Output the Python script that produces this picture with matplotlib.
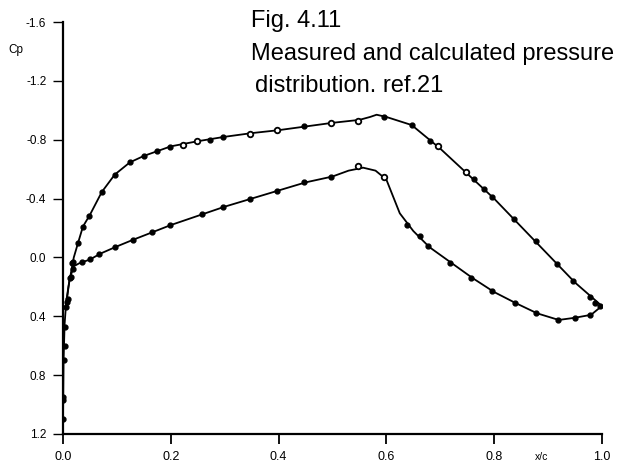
import numpy as np
import matplotlib
matplotlib.use("Agg")
import matplotlib.pyplot as plt

plt.rcParams['font.family'] = ['Liberation Sans', 'DejaVu Sans']

# calculated pressure distribution (solid lines)
upper_calc_x = [0.0, 0.001, 0.003, 0.006, 0.010, 0.015, 0.020, 0.028, 0.037, 0.050, 0.072, 0.096,
                0.124, 0.150, 0.200, 0.250, 0.300, 0.350, 0.400, 0.450, 0.500, 0.550, 0.570,
                0.582, 0.600, 0.647, 0.700, 0.750, 0.800, 0.850, 0.900, 0.950, 1.000]
upper_calc_cp = [1.10, 0.70, 0.45, 0.30, 0.20, 0.10, 0.00, -0.10, -0.21, -0.29, -0.445, -0.563,
                 -0.646, -0.69, -0.755, -0.79, -0.82, -0.845, -0.865, -0.89, -0.915, -0.935, -0.955,
                 -0.97, -0.955, -0.90, -0.74, -0.57, -0.40, -0.21, -0.02, 0.17, 0.33]

lower_calc_x = [0.005, 0.012, 0.020, 0.030, 0.050, 0.070, 0.100, 0.130, 0.165, 0.200, 0.260,
                0.300, 0.350, 0.400, 0.450, 0.500, 0.530, 0.557, 0.580, 0.600, 0.625, 0.650,
                0.680, 0.720, 0.760, 0.800, 0.840, 0.880, 0.920, 0.950, 0.980, 1.000]
lower_calc_cp = [0.35, 0.15, 0.06, 0.04, 0.014, -0.027, -0.075, -0.12, -0.17, -0.22, -0.295,
                 -0.345, -0.40, -0.455, -0.51, -0.55, -0.59, -0.61, -0.59, -0.53, -0.30, -0.18,
                 -0.07, 0.035, 0.14, 0.235, 0.31, 0.38, 0.425, 0.41, 0.39, 0.33]

# measured values
upper_meas_x = [0.010, 0.015, 0.018, 0.027, 0.037, 0.049, 0.072, 0.096, 0.124, 0.150, 0.174,
                0.199, 0.273, 0.297, 0.448, 0.596, 0.647, 0.681, 0.763, 0.781, 0.797, 0.837,
                0.878, 0.916, 0.947, 0.978, 0.987, 0.996]
upper_meas_cp = [0.28, 0.13, 0.03, -0.10, -0.21, -0.285, -0.445, -0.563, -0.646, -0.69, -0.725,
                 -0.752, -0.80, -0.818, -0.89, -0.954, -0.90, -0.79, -0.53, -0.466, -0.41, -0.26,
                 -0.11, 0.043, 0.16, 0.27, 0.31, 0.33]
upper_open_x = [0.223, 0.248, 0.347, 0.398, 0.497, 0.548, 0.695, 0.747]
upper_open_cp = [-0.766, -0.789, -0.84, -0.863, -0.917, -0.929, -0.76, -0.58]

lower_meas_x = [0.0, 0.0, 0.0, 0.002, 0.004, 0.004, 0.005, 0.007, 0.013, 0.016, 0.019, 0.035,
                0.050, 0.067, 0.096, 0.129, 0.165, 0.199, 0.258, 0.297, 0.347, 0.398, 0.448,
                0.497, 0.638, 0.662, 0.678, 0.718, 0.758, 0.797, 0.839, 0.878, 0.918, 0.950,
                0.978]
lower_meas_cp = [1.10, 0.97, 0.95, 0.70, 0.60, 0.47, 0.34, 0.30, 0.14, 0.036, 0.08, 0.034,
                 0.014, -0.02, -0.07, -0.12, -0.17, -0.22, -0.296, -0.344, -0.40, -0.454, -0.51,
                 -0.547, -0.22, -0.145, -0.077, 0.036, 0.14, 0.23, 0.31, 0.38, 0.425, 0.41,
                 0.393]
lower_open_x = [0.548, 0.596]
lower_open_cp = [-0.62, -0.55]

fig = plt.figure(figsize=(6.43, 4.66), dpi=100)
ax = fig.add_axes([0.098, 0.0687, 0.838, 0.884])

ax.plot(upper_calc_x, upper_calc_cp, color='black', lw=1.3)
ax.plot(lower_calc_x, lower_calc_cp, color='black', lw=1.3)

ax.plot(upper_meas_x, upper_meas_cp, 'o', color='black', ms=3.5)
ax.plot(lower_meas_x, lower_meas_cp, 'o', color='black', ms=3.5)
ax.plot(upper_open_x, upper_open_cp, 'o', mfc='white', mec='black', mew=1.3, ms=4)
ax.plot(lower_open_x, lower_open_cp, 'o', mfc='white', mec='black', mew=1.3, ms=4)

ax.set_xlim(0.0, 1.0)
ax.set_ylim(1.2, -1.6)
ax.set_xticks([0.0, 0.2, 0.4, 0.6, 0.8, 1.0])
ax.set_xticklabels(['0.0', '0.2', '0.4', '0.6', '0.8', '1.0'])
ax.set_yticks([-1.6, -1.2, -0.8, -0.4, 0.0, 0.4, 0.8, 1.2])
ax.set_yticklabels(['-1.6', '-1.2', '-0.8', '-0.4', '0.0', '0.4', '0.8', '1.2'])
ax.tick_params(axis='x', direction='out', length=7, width=1.3, labelsize=9, pad=5)
ax.tick_params(axis='y', direction='out', length=7, width=1.0, labelsize=8.5, pad=5)

for s in ['top', 'right']:
    ax.spines[s].set_visible(False)
for s in ['left', 'bottom']:
    ax.spines[s].set_linewidth(1.6)

fig.text(8 / 643, 1 - 50 / 466, 'Cp', fontsize=8.5, va='center')
fig.text(542 / 643, 1 - 457 / 466, 'x/c', fontsize=7.5, ha='center', va='center')

fig.text(251 / 643, 1 - 27 / 466, 'Fig. 4.11', fontsize=17, va='baseline')
fig.text(251 / 643, 1 - 60 / 466, 'Measured and calculated pressure', fontsize=17, va='baseline')
fig.text(255 / 643, 1 - 92 / 466, 'distribution. ref.21', fontsize=17, va='baseline')

fig.savefig('out.png', dpi=100)
